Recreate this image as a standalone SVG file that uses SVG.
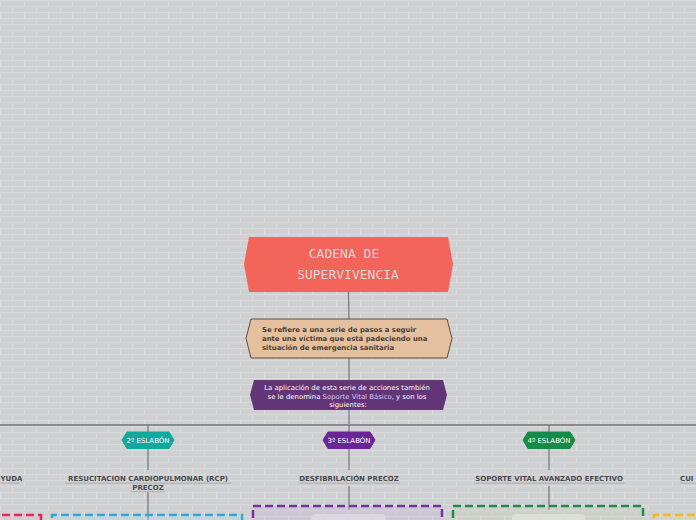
<svg xmlns="http://www.w3.org/2000/svg" width="696" height="520" viewBox="0 0 696 520">
<defs>
<pattern id="bricks" x="0" y="0" width="48" height="12" patternUnits="userSpaceOnUse">
<rect width="48" height="12" fill="#cfd0d2"/>
<rect x="0" y="0" width="48" height="1" fill="#d9dadc"/>
<rect x="0" y="6" width="48" height="1" fill="#d9dadc"/>
<rect x="0" y="0" width="1" height="6" fill="#d9dadc"/>
<rect x="24" y="0" width="1" height="6" fill="#d9dadc"/>
<rect x="12" y="6" width="1" height="6" fill="#d9dadc"/>
<rect x="36" y="6" width="1" height="6" fill="#d9dadc"/>
</pattern>
<style>
.conn{stroke:#7c7c7e;stroke-width:1.3;fill:none}
.hline{stroke:#8a8a8c;stroke-width:1.8;fill:none}
.badge-t{font-family:"DejaVu Sans",sans-serif;font-size:7px;fill:#ffffff;text-anchor:middle}
.lbl{font-family:"DejaVu Sans",sans-serif;font-size:7px;font-weight:bold;fill:#4a4a4c}
.ul{fill:#b3b4b6}
.dash{fill-opacity:0.35;stroke-width:2.5;stroke-dasharray:8 4}
</style>
</defs>
<rect width="696" height="520" fill="url(#bricks)"/>

<g id="connectors">
<line class="conn" x1="348.5" y1="292" x2="349" y2="319"/>
<line class="conn" x1="349" y1="358" x2="349" y2="380"/>
<line class="conn" x1="349" y1="410" x2="349" y2="425"/>
<line class="hline" x1="0" y1="425" x2="696" y2="425"/>
<line class="conn" x1="148" y1="425" x2="148" y2="470"/>
<line class="conn" x1="349" y1="425" x2="349" y2="470"/>
<line class="conn" x1="549" y1="425" x2="549" y2="470"/>
<line class="conn" x1="148" y1="492" x2="148" y2="520"/>
<line class="conn" x1="349" y1="486" x2="349" y2="510"/>
<line class="conn" x1="549" y1="486" x2="549" y2="510"/>
</g>

<g id="title">
<polygon points="249,237 448,237 453,264 448,292 249,292 244,264" fill="#f3645a"/>
<text font-family="DejaVu Sans Mono,monospace" font-size="13" fill="#d9d9d9" text-anchor="middle"><tspan x="344" y="258">CADENA DE</tspan><tspan x="348" y="279">SUPERVIVENCIA</tspan></text>
</g>

<g id="descripcion">
<polygon points="251,319 447,319 452,338.5 447,358 251,358 246,338.5" fill="#e4c09f" stroke="#5c4c40" stroke-width="1"/>
<text font-family="DejaVu Sans,sans-serif" font-size="6.9" font-weight="bold" fill="#4c3e33"><tspan x="262" y="332">Se refiere a una serie de pasos a seguir</tspan><tspan x="262" y="341">ante una víctima que está padeciendo una</tspan><tspan x="262" y="350">situación de emergencia sanitaria</tspan></text>
</g>

<g id="soporte">
<polygon points="254,380 443,380 447,395 443,410 254,410 250,395" fill="#623577"/>
<text font-family="DejaVu Sans,sans-serif" font-size="6.9" fill="#ffffff" text-anchor="middle"><tspan x="347" y="389.5">La aplicación de esta serie de acciones también</tspan><tspan x="347" y="398.5">se le denomina <tspan fill="#d9c9f2">Soporte Vital Básico</tspan>, y son los</tspan><tspan x="348" y="406.5">siguientes:</tspan></text>
</g>

<g id="eslabon1">
<text class="lbl" x="0.5" y="481" style="text-anchor:start">YUDA</text>
<rect class="ul" x="0" y="482.5" width="20" height="1.3"/>
<path class="dash" d="M-10,515 H41 V530" fill="#e3bfd0" stroke="#e8265e"/>
</g>

<g id="eslabon2">
<path d="M127,432 H169 L174,440 L169,448.5 H127 L122,440 Z" fill="#13a89e" stroke="#13a89e" stroke-width="1" stroke-linejoin="round"/>
<text class="badge-t" x="148" y="443">2º ESLABÓN</text>
<text class="lbl" x="148" y="481" style="text-anchor:middle">RESUCITACION CARDIOPULMONAR (RCP)</text>
<rect class="ul" x="65" y="482.5" width="166" height="1.3"/>
<text class="lbl" x="148" y="489.5" style="text-anchor:middle">PRECOZ</text>
<rect class="ul" x="131" y="491" width="34" height="1.3"/>
<path class="dash" d="M52,530 V515 H242 V530" fill="#c4dbe9" stroke="#2ea8e0"/>
</g>

<g id="eslabon3">
<path d="M328,432 H370 L375,440 L370,448.5 H328 L323,440 Z" fill="#6a2596" stroke="#6a2596" stroke-width="1" stroke-linejoin="round"/>
<text class="badge-t" x="349" y="443">3º ESLABÓN</text>
<text class="lbl" x="349" y="481" style="text-anchor:middle">DESFIBRILACIÓN PRECOZ</text>
<rect class="ul" x="298" y="482.5" width="102" height="1.3"/>
<path class="dash" d="M253,530 V506 H442 V530" fill="#c9b8d6" stroke="#7531a0"/>
<rect x="311.5" y="514" width="74" height="12" rx="4" fill="#dcd8e0"/>
</g>

<g id="eslabon4">
<path d="M528,432 H570 L575,440 L570,448.5 H528 L523,440 Z" fill="#168a48" stroke="#168a48" stroke-width="1" stroke-linejoin="round"/>
<text class="badge-t" x="549" y="443">4º ESLABÓN</text>
<text class="lbl" x="549" y="481" style="text-anchor:middle">SOPORTE VITAL AVANZADO EFECTIVO</text>
<rect class="ul" x="474" y="482.5" width="151" height="1.3"/>
<path class="dash" d="M453,530 V506 H643 V530" fill="#c6d2b8" stroke="#1e8c4c"/>
<rect x="512" y="514" width="73" height="12" rx="4" fill="#dcdfd8"/>
</g>

<g id="eslabon5">
<text class="lbl" x="680" y="481" style="text-anchor:start">CUI</text>
<rect class="ul" x="680" y="482.5" width="16" height="1.3"/>
<path class="dash" d="M654,530 V515 H710" fill="#e3d4b0" stroke="#f5b820"/>
</g>
</svg>
